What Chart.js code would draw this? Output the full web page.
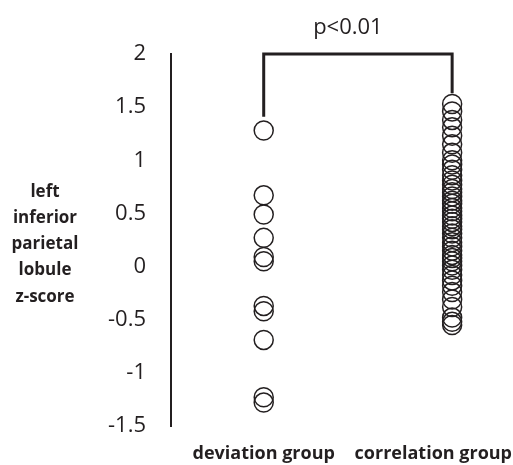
<!DOCTYPE html>
<html>
<head>
<meta charset="utf-8">
<script src="https://cdn.jsdelivr.net/npm/chart.js@4/dist/chart.umd.min.js"></script>
<style>
  html, body { margin: 0; padding: 0; background: #fff; }
  #wrap { width: 513px; height: 465px; }
</style>
</head>
<body>
<div id="wrap"><canvas id="chart"></canvas></div>
<script>
// Chart data
const categories = ['deviation group', 'correlation group'];
const yTicks = [2, 1.5, 1, 0.5, 0, -0.5, -1, -1.5];
const yTitleLines = ['left', 'inferior', 'parietal', 'lobule', 'z-score'];
const pLabel = 'p<0.01';

const deviationValues = [1.28, 0.67, 0.49, 0.27, 0.09, 0.05, -0.37, -0.42, -0.69, -1.23, -1.28];
const correlationValues = [
  1.53, 1.46, 1.38, 1.31, 1.23, 1.15, 1.07, 1.0, 0.96, 0.91,
  0.86, 0.81, 0.77, 0.73, 0.7, 0.66, 0.62, 0.59, 0.55, 0.52,
  0.48, 0.45, 0.42, 0.38, 0.35, 0.31, 0.27, 0.23, 0.19, 0.15,
  0.11, 0.08, 0.05, 0.01, -0.03, -0.08, -0.13, -0.18, -0.24, -0.31,
  -0.38, -0.48, -0.52, -0.55
];
// bracket ends (left foot, top, right foot)
const bracketY = [1.41, 2.0, 1.63];

const ink = '#231f20';

function toPoints(values, xPos) {
  return values.map(v => ({ x: xPos, y: v }));
}

// Draw the texts that Chart.js has no slot for
const annotations = {
  id: 'annotations',
  afterDraw(chart) {
    const ctx = chart.ctx;
    const xs = chart.scales.x;
    ctx.save();
    ctx.fillStyle = ink;

    // y axis title, horizontal lines
    ctx.font = 'bold 17px "Open Sans"';
    ctx.textAlign = 'center';
    ctx.textBaseline = 'middle';
    yTitleLines.forEach((line, i) => {
      ctx.fillText(line, 45, 192 + i * 26.2);
    });

    // category labels under the points
    ctx.font = 'bold 18px "Open Sans"';
    categories.forEach((cat, i) => {
      const w = ctx.measureText(cat).width;
      let cx = xs.getPixelForValue(i + 1);
      if (cx + w / 2 > chart.width - 1) cx = chart.width - 1 - w / 2;
      ctx.fillText(cat, cx, 454);
    });

    // significance label above the bracket
    ctx.font = '22px "Open Sans"';
    const mid = (xs.getPixelForValue(1) + xs.getPixelForValue(2)) / 2 - 10;
    ctx.fillText(pLabel, mid, 28);
    ctx.restore();
  }
};

const ctx = document.getElementById('chart').getContext('2d');
new Chart(ctx, {
  type: 'scatter',
  data: {
    datasets: [
      {
        label: categories[0],
        data: toPoints(deviationValues, 1),
        pointStyle: 'circle',
        pointRadius: 9.5,
        pointHoverRadius: 9.5,
        borderWidth: 1.5,
        borderColor: ink,
        backgroundColor: 'rgba(0,0,0,0)'
      },
      {
        label: categories[1],
        data: toPoints(correlationValues, 2),
        pointStyle: 'circle',
        pointRadius: 9.5,
        pointHoverRadius: 9.5,
        borderWidth: 1.5,
        borderColor: ink,
        backgroundColor: 'rgba(0,0,0,0)'
      },
      {
        label: 'bracket',
        type: 'line',
        data: [
          { x: 1, y: bracketY[0] },
          { x: 1, y: bracketY[1] },
          { x: 2, y: bracketY[1] },
          { x: 2, y: bracketY[2] }
        ],
        showLine: true,
        pointRadius: 0,
        borderWidth: 3,
        borderColor: ink,
        borderJoinStyle: 'miter',
        fill: false,
        clip: false
      }
    ]
  },
  options: {
    responsive: true,
    maintainAspectRatio: false,
    animation: false,
    events: [],
    layout: {
      padding: { left: 0, right: 13, top: 54, bottom: 39 }
    },
    plugins: {
      legend: { display: false },
      tooltip: { enabled: false }
    },
    scales: {
      x: {
        type: 'linear',
        display: false,
        min: 0.508,
        max: 2.254
      },
      y: {
        min: -1.5,
        max: 2,
        afterBuildTicks: scale => {
          scale.ticks = yTicks.map(v => ({ value: v }));
        },
        afterFit: scale => {
          scale.width = 171;
        },
        grid: { display: false, drawTicks: false },
        border: { display: true, color: ink, width: 2 },
        ticks: {
          padding: 25,
          color: ink,
          font: { family: '"Open Sans"', size: 22 },
          callback: v => String(v)
        }
      }
    }
  },
  plugins: [annotations]
});
</script>
</body>
</html>
